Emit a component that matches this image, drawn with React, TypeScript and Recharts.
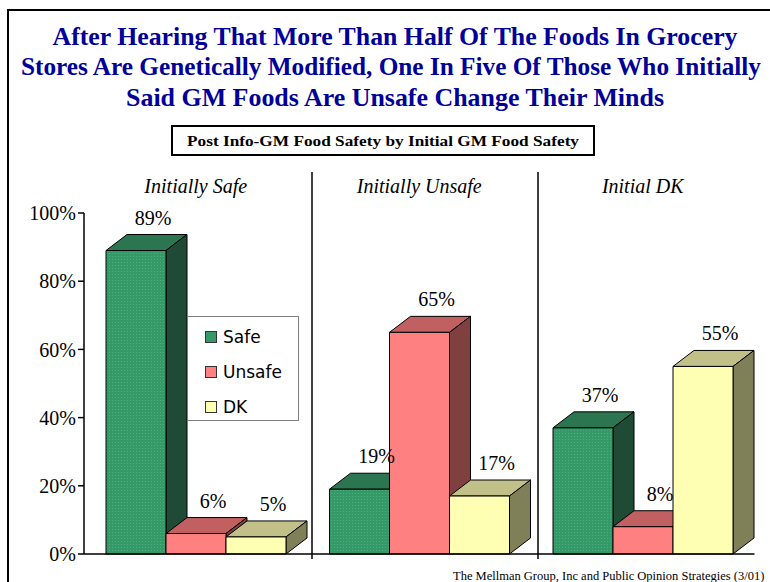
import React from 'react';
import { BarChart, Bar, XAxis, YAxis, ReferenceLine, Legend, LabelList } from 'recharts';

// groups of respondents by their initial answer
const groups = ['Initially Safe', 'Initially Unsafe', 'Initial DK'];
// answers after hearing the info (%)
const safeValues = [89, 19, 37];
const unsafeValues = [6, 65, 8];
const dkValues = [5, 17, 55];
const yTicks = [0, 20, 40, 60, 80, 100];

const titleLines = [
  'After Hearing That More Than Half Of The Foods In Grocery',
  'Stores Are Genetically Modified, One In Five Of Those Who Initially',
  'Said GM Foods Are Unsafe Change Their Minds',
];
const subtitle = 'Post Info-GM Food Safety by Initial GM Food Safety';
const footer = 'The Mellman Group, Inc and Public Opinion Strategies (3/01)';

const data = groups.map((g, i) => ({
  group: g,
  Safe: safeValues[i],
  Unsafe: unsafeValues[i],
  DK: dkValues[i],
}));

// front / top / side face colours for each series
const series = [
  { key: 'Safe', front: 'url(#dotsGreen)', legend: '#339966', top: '#2b7550', side: '#1f4a35' },
  { key: 'Unsafe', front: '#ff8080', legend: '#ff8080', top: '#c06060', side: '#804040' },
  { key: 'DK', front: '#ffffb3', legend: '#ffffb3', top: '#c0c088', side: '#808058' },
];

const SERIF = '"Liberation Serif", "Times New Roman", serif';
const DX = 21;
const DY = 16;

const Box3D = (props: any) => {
  const { x, y, width, height, front, top, side } = props;
  if (width == null || height == null) return null;
  const r = x + width;
  const b = y + height;
  return (
    <g stroke="#000" strokeWidth={1} strokeLinejoin="round">
      <polygon points={`${x},${y} ${x + DX},${y - DY} ${r + DX},${y - DY} ${r},${y}`} fill={top} />
      <polygon points={`${r},${y} ${r + DX},${y - DY} ${r + DX},${b - DY} ${r},${b}`} fill={side} />
      <rect x={x} y={y} width={width} height={height} fill={front} />
    </g>
  );
};

const renderValue = (p: any) => {
  const vb = p.viewBox || p;
  const x = vb.x;
  const y = vb.y;
  const w = vb.width;
  return (
    <text x={x + w / 2 + 17} y={y - 26} textAnchor="middle" fontFamily={SERIF} fontSize={20} fill="#000">
      {p.value}%
    </text>
  );
};

const GroupTick = (props: any) => {
  const { x, y, payload } = props;
  return (
    <text x={x} y={y - 20} textAnchor="middle" fontFamily={SERIF} fontStyle="italic" fontSize={20} fill="#000">
      {payload.value}
    </text>
  );
};

const renderLegend = (props: any) => {
  const items = [...(props.payload || [])].sort(
    (a: any, b: any) => series.findIndex((s) => s.key === a.value) - series.findIndex((s) => s.key === b.value)
  );
  return (
    <div
      style={{
        boxSizing: 'border-box',
        width: 112,
        height: 105,
        border: '1px solid #7f7f7f',
        background: '#fff',
        padding: '2px 0 0 17px',
        fontFamily: '"DejaVu Sans", Verdana, sans-serif',
        fontSize: 17,
        color: '#000',
      }}
    >
      {items.map((entry: any) => {
        const s = series.find((it) => it.key === entry.value);
        return (
          <div key={entry.value} style={{ display: 'flex', alignItems: 'center', height: 35 }}>
            <span
              style={{
                display: 'inline-block',
                width: 10,
                height: 10,
                border: '1px solid #333',
                background: s ? s.legend : entry.color,
                marginRight: 6,
              }}
            />
            {entry.value}
          </div>
        );
      })}
    </div>
  );
};

export default function App() {
  return (
    <div style={{ position: 'absolute', left: 0, top: 0, width: 770, height: 582, overflow: 'hidden', background: '#fff' }}>
      <svg width={770} height={582} style={{ position: 'absolute', left: 0, top: 0 }}>
        <rect x={8} y={10} width={800} height={620} fill="none" stroke="#000" strokeWidth={2} />
        <text x={395} y={45} textAnchor="middle" fontFamily={SERIF} fontWeight="bold" fontSize={25} fill="#000099" textLength={685} lengthAdjust="spacingAndGlyphs">
          {titleLines[0]}
        </text>
        <text x={391} y={75} textAnchor="middle" fontFamily={SERIF} fontWeight="bold" fontSize={25} fill="#000099" textLength={740} lengthAdjust="spacingAndGlyphs">
          {titleLines[1]}
        </text>
        <text x={395} y={106} textAnchor="middle" fontFamily={SERIF} fontWeight="bold" fontSize={25} fill="#000099" textLength={538} lengthAdjust="spacingAndGlyphs">
          {titleLines[2]}
        </text>
        <rect x={172} y={126} width={422} height={29} fill="#fff" stroke="#000" strokeWidth={2} />
        <text x={383} y={146} textAnchor="middle" fontFamily={SERIF} fontWeight="bold" fontSize={15} fill="#000" textLength={392} lengthAdjust="spacingAndGlyphs">
          {subtitle}
        </text>
        <line x1={312} y1={172} x2={312} y2={559} stroke="#000" strokeWidth={1.5} />
        <line x1={538} y1={172} x2={538} y2={559} stroke="#000" strokeWidth={1.5} />
        <text x={453} y={580} fontFamily={SERIF} fontSize={12.5} fill="#000">
          {footer}
        </text>
      </svg>
      <div style={{ position: 'absolute', left: 0, top: 0 }}>
        <BarChart
          width={770}
          height={582}
          data={data}
          margin={{ top: 183, right: 15.5, bottom: 28, left: 0 }}
          barGap={0}
          barSize={60}
        >
          <defs>
            <pattern id="dotsGreen" width={3} height={3} patternUnits="userSpaceOnUse">
              <rect width={3} height={3} fill="#339966" />
              <rect x={1} y={1} width={1} height={1} fill="#4fae7e" />
            </pattern>
          </defs>
          <XAxis
            dataKey="group"
            orientation="top"
            height={30}
            axisLine={false}
            tickLine={false}
            tickSize={0}
            tickMargin={0}
            tick={<GroupTick />}
            interval={0}
          />
          <YAxis
            width={84}
            domain={[0, 100]}
            ticks={yTicks}
            tickFormatter={(v: number) => `${v}%`}
            axisLine={{ stroke: '#000', strokeWidth: 1.5 }}
            tickLine={{ stroke: '#000', strokeWidth: 1.5 }}
            tickSize={6}
            tickMargin={2}
            tick={{ fill: '#000', fontSize: 20, fontFamily: SERIF }}
          />
          <ReferenceLine y={0} stroke="#000" strokeWidth={1.5} />
          <Legend
            layout="vertical"
            align="center"
            verticalAlign="middle"
            content={renderLegend}
            wrapperStyle={{ left: 187, top: 316, width: 112, height: 105 }}
          />
          {series.map((s) => (
            <Bar
              key={s.key}
              dataKey={s.key}
              name={s.key}
              fill={s.legend}
              isAnimationActive={false}
              shape={(p: any) => <Box3D {...p} front={s.front} top={s.top} side={s.side} />}
            >
              <LabelList dataKey={s.key} content={renderValue} />
            </Bar>
          ))}
        </BarChart>
      </div>
    </div>
  );
}
